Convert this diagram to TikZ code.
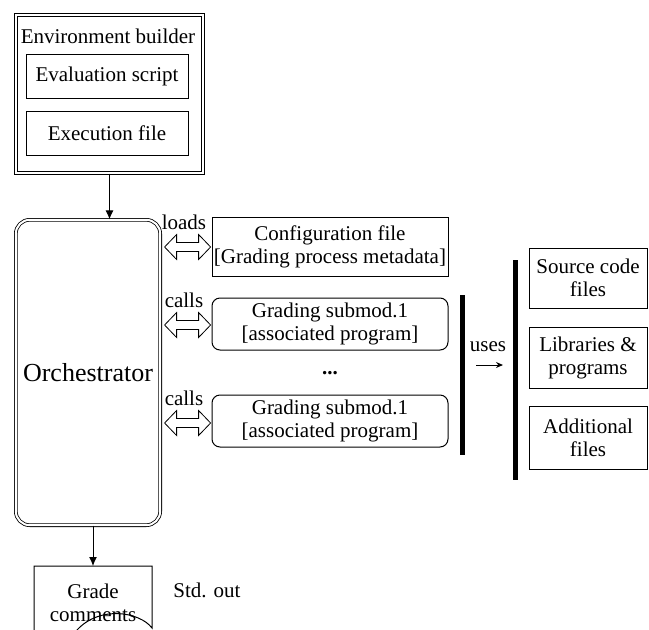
\documentclass[tikz,border=0pt]{standalone}
\usepackage{fontspec}
\setmainfont{LiberationSerif}[Extension=.ttf, UprightFont=*-Regular, BoldFont=*-Bold, ItalicFont=*-Italic, BoldItalicFont=*-BoldItalic]
\usetikzlibrary{arrows.meta,calc}
\begin{document}
\begin{tikzpicture}[x=1pt,y=-1pt,
  base/.style={font=\rmfamily\fontsize{21}{23}\selectfont, inner sep=1pt, align=center, text=black},
  box/.style={base, draw, line width=1pt},
  dbl/.style={draw, double, double distance=2pt, line width=0.8pt, inner sep=0pt},
  thickbar/.style={line width=5pt},
  conn/.style={line width=1pt, -{Latex[length=9pt,width=8pt]}},
  dblarr/.pic={\draw[line width=0.8pt] (0,0) -- (12,-12.5) -- (12,-4.5) -- (34,-4.5) -- (34,-12.5) -- (46,0) -- (34,12.5) -- (34,4.5) -- (12,4.5) -- (12,12.5) -- cycle;}
]
\clip (0,0) rectangle (649,630);
\fill[white] (0,0) rectangle (649,630);

% Environment builder
\node[dbl, minimum width=187.4, minimum height=158.4] (env) at (109.5,94) {};
\node[base] (envlbl) at (108,36) {Environment builder};
\node[box, minimum width=162, minimum height=44] (evs) at (107,76) {Evaluation script};
\node[box, minimum width=162, minimum height=44] (exf) at (107,133) {Execution file};

% Orchestrator
\node[dbl, rounded corners=14pt, minimum width=144.4, minimum height=305.4,
      font=\rmfamily\fontsize{26}{30}\selectfont] (orch) at (88,372.5) {Orchestrator};
\draw[conn] (env.south) -- (env.south |- orch.north);

% Grade comments (document shape)
\coordinate (gtop) at (93,566);
\draw[line width=1pt] (34,566) -- (152,566) -- (152,628)
  .. controls (140,612) and (100,605) .. (77,630)
  .. controls (60,648) and (45,648) .. (34,640) -- cycle;
\node[base] (grade) at (93,603) {Grade\\comments};
\draw[conn] (gtop |- orch.south) -- (gtop);
\node[base] (std) at (207,590) {Std. out};

% Middle column
\node[box, minimum width=236, minimum height=59] (cfg) at (330,246.5) {Configuration file\\{[Grading process metadata]}};
\node[box, rounded corners=8pt, minimum width=236, minimum height=52] (sub1) at (330,324) {Grading submod.1\\{[associated program]}};
\node[base, font=\rmfamily\fontsize{21}{23}\selectfont\bfseries] (dots) at (330,373) {...};
\node[box, rounded corners=8pt, minimum width=236, minimum height=52] (sub2) at (330,421) {Grading submod.1\\{[associated program]}};

\node[base] (lload) at (184,222) {loads};
\node[base] (lcall1) at (184,300) {calls};
\node[base] (lcall2) at (184,398) {calls};

\path (orch.east |- cfg.west) ++(4,0.5) pic {dblarr};
\path (orch.east |- sub1.west) ++(4,1) pic {dblarr};
\path (orch.east |- sub2.west) ++(4,2) pic {dblarr};

% Bars and uses
\coordinate (b1t) at (462,295);
\coordinate (b1b) at (462,455);
\draw[thickbar] (b1t) -- (b1b);
\coordinate (b2t) at (515,260);
\coordinate (b2b) at (515,480);
\draw[thickbar] (b2t) -- (b2b);
\node[base] (uses) at (488,347) {uses};
\coordinate (ua) at (476,365);
\coordinate (ub) at (503,365);
\draw[line width=1pt, -{Stealth[length=7pt,width=6pt]}] (ua) -- (ub);

% Right column
\node[box, minimum width=118, minimum height=60] (src) at (588,278) {Source code\\files};
\node[box, minimum width=118, minimum height=61] (lib) at (588,357.5) {Libraries \&\\programs};
\node[box, minimum width=118, minimum height=63] (add) at (588,437.5) {Additional\\files};
\end{tikzpicture}
\end{document}
